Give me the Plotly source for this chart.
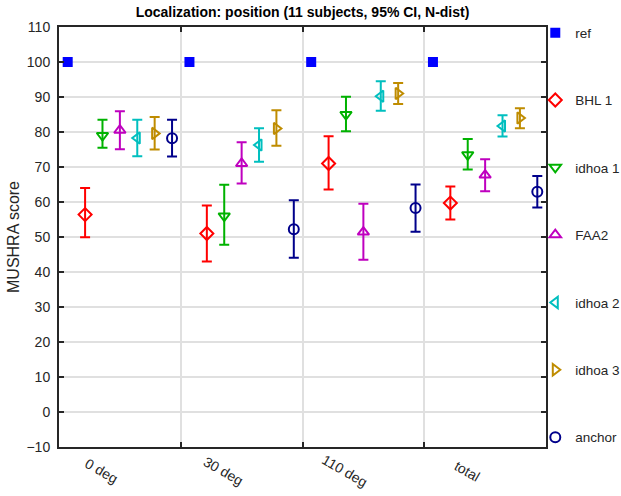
import plotly.graph_objects as go

# Listening-test results: mean MUSHRA score and 95% confidence bounds per condition
groups = ["0 deg", "30 deg", "110 deg", "total"]
systems = ["ref", "BHL 1", "idhoa 1", "FAA2", "idhoa 2", "idhoa 3", "anchor"]

ref_mean = [100, 100, 100, 100]

bhl1_mean = [56.4, 51.0, 71.0, 59.7]
bhl1_lo = [49.9, 43.0, 63.6, 55.0]
bhl1_hi = [64.0, 59.0, 78.8, 64.4]

idhoa1_mean = [79.0, 56.0, 85.0, 73.5]
idhoa1_lo = [75.5, 47.8, 80.2, 69.3]
idhoa1_hi = [83.5, 64.9, 90.1, 78.0]

faa2_mean = [80.5, 71.0, 51.4, 67.7]
faa2_lo = [75.1, 65.3, 43.5, 63.1]
faa2_hi = [85.9, 77.1, 59.5, 72.2]

idhoa2_mean = [78.3, 76.3, 90.2, 81.7]
idhoa2_lo = [73.1, 71.5, 86.1, 78.7]
idhoa2_hi = [83.5, 81.1, 94.5, 84.8]

idhoa3_mean = [79.6, 81.0, 91.0, 84.0]
idhoa3_lo = [75.0, 76.1, 88.0, 81.1]
idhoa3_hi = [84.3, 86.2, 94.0, 86.8]

anchor_mean = [78.2, 52.2, 58.3, 62.9]
anchor_lo = [73.0, 44.1, 51.5, 58.4]
anchor_hi = [83.5, 60.5, 65.0, 67.4]

y_ticks = list(range(-10, 111, 10))

series = [
    ("ref", ref_mean, ref_mean, ref_mean, "#0000ff", "square"),
    ("BHL 1", bhl1_mean, bhl1_lo, bhl1_hi, "#ff0000", "diamond-open"),
    ("idhoa 1", idhoa1_mean, idhoa1_lo, idhoa1_hi, "#00b200", "triangle-down-open"),
    ("FAA2", faa2_mean, faa2_lo, faa2_hi, "#bf00bf", "triangle-up-open"),
    ("idhoa 2", idhoa2_mean, idhoa2_lo, idhoa2_hi, "#00bfbf", "triangle-left-open"),
    ("idhoa 3", idhoa3_mean, idhoa3_lo, idhoa3_hi, "#bf8c00", "triangle-right-open"),
    ("anchor", anchor_mean, anchor_lo, anchor_hi, "#00008b", "circle-open"),
]

n_sys = len(series)
fig = go.Figure()

for k, (name, mean, lo, hi, color, symbol) in enumerate(series):
    xs = [g + (k + 0.5) / n_sys for g in range(len(groups))]
    plus = [h - m for h, m in zip(hi, mean)]
    minus = [m - l for m, l in zip(mean, lo)]
    fig.add_trace(go.Scatter(
        x=xs, y=mean, mode="markers", name=name, legendgroup=name,
        legend="legend" if k < 4 else "legend2",
        marker=dict(symbol=symbol, color=color, size=8 if k == 0 else 10,
                    line=dict(color=color, width=2)),
        error_y=dict(type="data", symmetric=False, array=plus, arrayminus=minus,
                     color=color, thickness=2, width=5, visible=k != 0),
    ))

# reference lines at 0 and 100
for yv in (0, 100):
    fig.add_shape(type="line", xref="paper", yref="y", x0=0, x1=1, y0=yv, y1=yv,
                  line=dict(color="#262626", width=1.5), layer="below")

# slanted group labels under the axis
for g, label in enumerate(groups):
    fig.add_annotation(x=g + 0.35, y=-0.057, xref="x", yref="paper",
                       text=label, showarrow=False, textangle=30,
                       font=dict(size=14, color="#262626"),
                       xanchor="center", yanchor="middle")

legend_style = dict(x=0.978, xanchor="left", xref="paper", yanchor="top",
                    yref="container", bgcolor="rgba(0,0,0,0)",
                    tracegroupgap=46.8, itemwidth=30,
                    font=dict(size=13.5, color="#262626"))

fig.update_layout(
    width=621, height=496,
    margin=dict(l=59, r=75, t=27, b=49, autoexpand=False),
    paper_bgcolor="white", plot_bgcolor="white",
    font=dict(family="Liberation Sans, Arial, sans-serif", size=14, color="#262626"),
    title=dict(text="<b>Localization: position (11 subjects, 95% CI, N-dist)</b>",
               x=0.5, xanchor="center", y=0.976, yanchor="middle",
               xref="paper", yref="container",
               font=dict(size=14, color="black")),
    showlegend=True,
    legend=dict(y=0.965, **legend_style),
    legend2=dict(y=0.421, **legend_style),
    xaxis=dict(range=[0, 4], tickvals=[0, 1, 2, 3, 4], showticklabels=False,
               showgrid=True, gridcolor="#e0e0e0", gridwidth=2,
               ticks="inside", ticklen=5, tickwidth=2, tickcolor="#262626",
               showline=True, linecolor="#262626", linewidth=2, mirror="ticks",
               zeroline=False),
    yaxis=dict(range=[-10, 110], tickvals=y_ticks, showgrid=True,
               gridcolor="#e0e0e0", gridwidth=2,
               ticks="inside", ticklen=5, tickwidth=2, tickcolor="#262626",
               showline=True, linecolor="#262626", linewidth=2, mirror="ticks",
               zeroline=False,
               title=dict(text="MUSHRA score", standoff=3, font=dict(size=16)),
               ticklabelstandoff=4, tickfont=dict(size=14)),
)

fig.write_html("out.html")
